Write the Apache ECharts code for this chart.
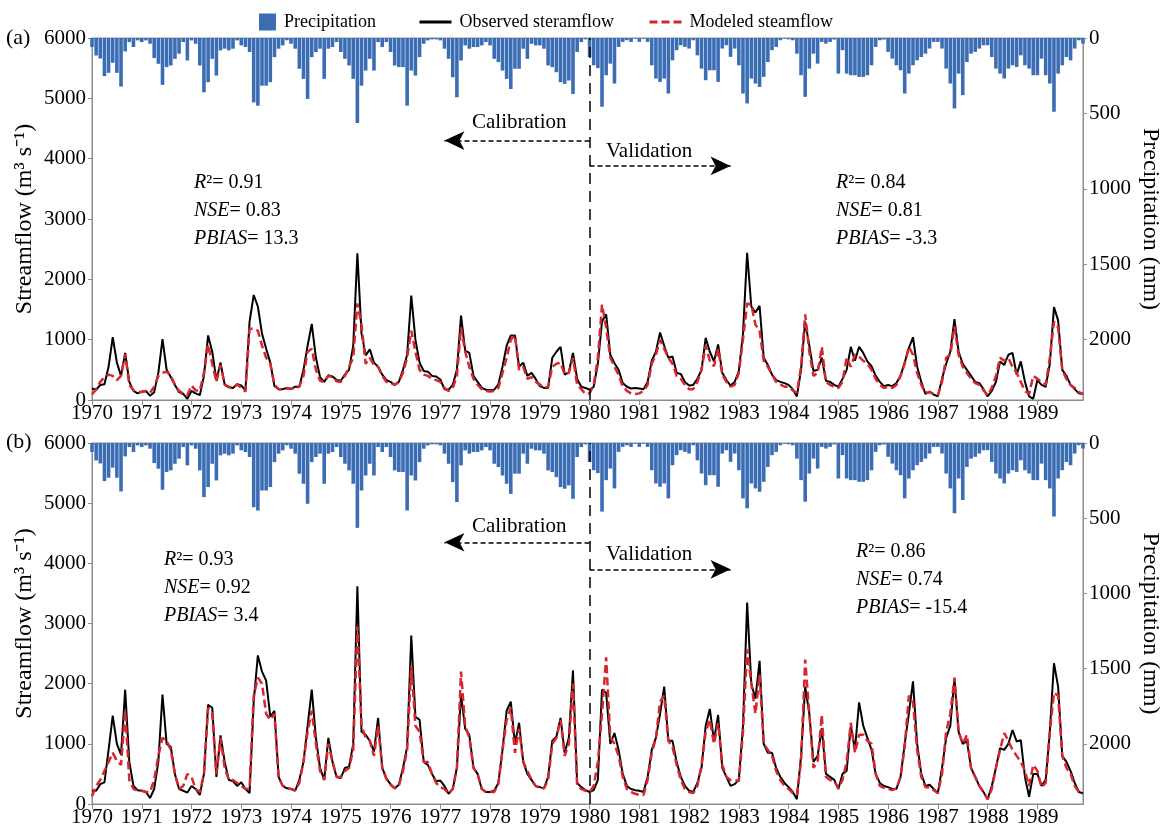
<!DOCTYPE html>
<html><head><meta charset="utf-8">
<script src="https://cdn.jsdelivr.net/npm/echarts@6/dist/echarts.min.js"></script>
<style>html,body{margin:0;padding:0;background:#fff}#c{width:1165px;height:833px}</style>
</head><body><div id="c"></div>
<script>
// ---------- DATA (monthly, Jan 1970 - Dec 1989) ----------
const startYear = 1970;
const nYears = 20;
const precipitation = [
  60,116,136,253,231,164,231,322,89,27,60,16,
  27,16,38,133,171,311,193,182,138,104,27,149,
  16,38,182,360,293,138,249,82,71,82,71,16,
  49,60,93,427,449,316,316,293,127,71,49,15,
  38,71,204,271,404,127,93,71,271,71,60,27,
  93,138,182,271,564,316,216,138,216,27,60,27,
  93,182,193,193,449,216,249,127,38,16,9,9,
  16,71,138,260,393,149,49,71,60,60,49,27,
  49,138,160,216,271,338,204,204,71,138,38,49,
  49,71,182,193,227,293,304,282,371,93,27,9,
  126,181,200,456,247,170,302,59,26,15,26,5,
  26,5,26,181,269,291,269,368,148,81,48,59,
  70,15,115,203,280,214,214,291,70,48,125,70,
  181,368,434,269,302,324,258,159,81,59,15,5,
  9,15,104,247,390,203,104,170,26,37,26,10,
  236,81,236,247,247,258,258,247,181,59,15,10,
  92,137,181,214,368,236,181,148,126,104,70,26,
  26,70,203,302,467,236,379,159,104,92,70,48,
  48,126,203,236,269,203,181,192,115,181,203,247,
  247,137,247,302,489,236,181,126,148,70,15,37
];
const observedA = [
  190,170,250,260,550,1040,620,400,780,300,150,110,
  140,150,70,130,450,1010,500,380,250,130,100,20,
  150,110,80,400,1070,800,330,620,250,210,200,260,
  240,160,1300,1740,1550,1100,850,620,230,180,180,200,
  180,220,220,500,900,1260,700,380,300,410,390,330,
  320,420,500,900,2430,1100,740,840,620,550,420,330,
  300,250,300,500,750,1730,1000,620,480,470,400,390,
  340,180,170,250,500,1400,820,780,400,300,200,170,
  160,170,260,550,900,1070,1070,550,620,400,450,350,
  230,200,200,700,800,880,420,460,780,350,220,200,
  170,220,600,1300,1420,750,610,500,280,220,190,200,
  190,180,300,650,800,1120,900,700,720,450,430,300,
  240,250,350,500,1030,800,640,920,450,330,240,300,
  480,1100,2440,1550,1450,1560,700,580,420,330,300,280,
  250,180,60,500,1300,900,480,500,700,320,300,250,
  220,350,500,880,650,880,780,640,560,400,300,230,
  250,230,280,400,620,860,1040,550,300,100,140,90,
  60,350,600,800,1340,800,600,500,400,300,280,180,
  60,150,300,640,580,750,780,420,640,300,60,20,
  330,250,220,600,1540,1320,500,400,250,180,110,100
];
const modeledA = [
  90,180,300,380,420,400,330,400,760,250,160,140,
  130,150,120,220,400,450,470,400,250,150,110,80,
  240,160,150,450,920,600,300,580,260,220,200,260,
  200,140,1180,1180,1150,900,700,600,250,180,180,190,
  190,190,220,400,800,850,500,320,300,400,380,310,
  300,400,550,700,1600,1250,600,700,580,550,400,300,
  280,250,300,450,700,1150,800,500,420,400,350,330,
  300,200,150,200,400,1200,800,550,350,250,180,150,
  140,150,200,450,700,1000,1070,500,550,350,380,300,
  260,200,220,550,600,620,420,450,700,250,180,100,
  110,250,700,1580,1200,700,550,420,220,150,110,100,
  110,150,250,600,750,1000,850,700,600,400,350,250,
  180,180,300,500,900,650,560,850,420,300,220,250,
  450,1000,1600,1580,1250,1150,650,550,420,300,260,220,
  220,160,120,550,1420,800,400,450,880,300,250,220,
  200,300,700,550,750,720,650,600,500,350,250,200,
  220,200,250,400,600,880,750,450,250,120,130,100,
  80,300,700,750,1220,750,550,450,350,280,250,160,
  80,200,400,700,650,700,550,450,300,150,100,400,
  350,300,250,700,1300,1200,500,350,250,200,130,100
];
const observedB = [
  220,220,330,360,900,1470,1000,820,1900,700,300,230,
  220,200,100,250,700,1820,1000,950,500,250,220,190,
  300,250,150,500,1650,1600,450,1140,700,400,380,300,
  360,250,180,1700,2470,2200,2050,1450,1550,450,300,260,
  250,220,400,700,1300,1900,1100,600,400,1100,700,450,
  430,600,620,1000,3620,1200,1150,1050,870,1430,600,420,
  330,260,320,600,950,2800,1450,1400,700,650,500,380,
  390,300,170,250,600,1820,1250,1150,600,500,250,200,
  200,220,350,900,1550,1700,1000,1350,700,500,400,300,
  280,260,450,1050,1120,1430,850,1100,2220,350,280,230,
  200,230,400,1900,1850,1000,1180,900,500,300,250,230,
  220,200,450,900,1100,1500,1950,1050,1050,700,450,300,
  220,200,350,600,1300,1580,1050,1480,600,450,300,330,
  400,1300,3350,2000,1750,2380,1000,850,850,600,450,350,
  280,200,80,800,1950,1500,700,800,1260,500,450,400,
  250,500,550,1300,900,1690,1300,1100,900,500,350,300,
  280,250,250,450,1000,1500,2040,1000,500,300,320,250,
  180,600,1100,1300,2080,1200,1000,1050,600,450,300,200,
  80,300,600,930,900,1000,1230,1040,1060,450,120,500,
  500,300,400,1200,2340,1950,800,700,550,350,200,180
];
const modeledB = [
  130,300,400,550,700,850,720,650,1550,400,250,220,
  220,200,200,400,800,1100,1050,900,500,250,300,500,
  450,250,200,500,1600,1500,500,1100,600,400,400,350,
  300,250,250,1800,2100,2000,1500,1400,1500,450,300,270,
  250,230,350,700,1200,1550,1000,550,400,1000,700,450,
  450,550,600,900,2950,1300,1100,1050,800,1300,600,420,
  320,260,300,550,900,2300,1300,1200,700,700,500,350,
  280,250,170,250,600,2200,1300,1100,600,500,250,200,
  200,200,330,900,1400,1600,850,1250,700,550,400,300,
  260,260,400,1000,1100,1400,800,1000,2000,300,250,220,
  200,300,700,1500,2440,1100,1000,800,450,250,200,170,
  150,150,400,850,1100,1700,1800,1050,950,650,400,250,
  200,180,300,650,1200,1400,1000,1350,650,450,400,400,
  380,1200,2570,2000,1500,2150,1000,900,800,550,400,300,
  250,180,150,700,2400,1500,600,700,1480,450,400,380,
  260,400,700,1350,850,1150,1150,1050,1000,500,300,270,
  250,230,260,450,950,1800,1700,900,450,280,280,230,
  180,500,1200,1500,2100,1200,1000,1150,600,450,300,200,
  80,250,600,900,1180,1050,900,800,700,550,300,650,
  550,280,350,1200,1850,1800,800,600,500,300,200,170
];
const panelLabels = ['(a)', '(b)'];
const statsA = { cal: ['0.91', '0.83', '13.3'], val: ['0.84', '0.81', '-3.3'] };
const statsB = { cal: ['0.93', '0.92', '3.4'], val: ['0.86', '0.74', '-15.4'] };
const splitIndex = 120;            // Jan 1980: calibration / validation boundary
const arrowLevelsA = [4300, 3880]; // streamflow level of calibration / validation arrows
const arrowLevelsB = [4350, 3900];
const arrowEnds = [85, 154];       // month index where the arrows end

// ---------- CHART ----------
const SERIF = '"Liberation Serif", "Times New Roman", serif';
const AX = '#8c8c8c';
const BLUE = '#3b6db4';
const RED = '#d7262e';
const pair = arr => arr.map((v, i) => [i, v]);
const lastIdx = nYears * 12 - 1;

const grids = [
  { left: 92, right: 82, top: 38, height: 362 },
  { left: 92, right: 82, top: 443, height: 361 }
].map(g => Object.assign(g, {
  show: true, borderColor: AX, borderWidth: 1, backgroundColor: 'transparent',
  containLabel: false, outerBoundsMode: 'none'
}));

function xAxis(gi) {
  return {
    type: 'value', gridIndex: gi, min: 0, max: lastIdx, interval: 12,
    axisLine: { lineStyle: { color: AX, width: 1 } },
    axisTick: { length: 5, lineStyle: { color: AX } },
    splitLine: { show: false },
    axisLabel: {
      color: '#000', fontFamily: SERIF, fontSize: 21, margin: 3, showMaxLabel: false,
      formatter: v => (v % 12 === 0 ? String(startYear + v / 12) : '')
    }
  };
}
function yLeft(gi) {
  return {
    type: 'value', gridIndex: gi, min: 0, max: 6000, interval: 1000, position: 'left',
    name: 'Streamflow (m³ s⁻¹)', nameLocation: 'middle', nameGap: 55, nameRotate: 90,
    nameMoveOverlap: false,
    nameTextStyle: { color: '#000', fontFamily: SERIF, fontSize: 24 },
    axisLine: { show: true, lineStyle: { color: AX } },
    axisTick: { show: true, length: 4, lineStyle: { color: AX } },
    splitLine: { show: false },
    axisLabel: { color: '#000', fontFamily: SERIF, fontSize: 21, margin: 6, formatter: v => String(v) }
  };
}
function yRight(gi) {
  return {
    type: 'value', gridIndex: gi, min: 0, max: 2400, interval: 500, inverse: true, position: 'right',
    name: 'Precipitation (mm)', nameLocation: 'middle', nameGap: 55, nameRotate: -90,
    nameMoveOverlap: false,
    nameTextStyle: { color: '#000', fontFamily: SERIF, fontSize: 24 },
    axisLine: { show: true, lineStyle: { color: AX } },
    axisTick: { show: true, length: 4, lineStyle: { color: AX } },
    splitLine: { show: false },
    axisLabel: { color: '#000', fontFamily: SERIF, fontSize: 21, margin: 6, showMaxLabel: false, formatter: v => String(v) }
  };
}

function panelSeries(gi, obs, mod, levels) {
  const arrowStyle = { color: '#000', width: 1.5, type: [5, 3] };
  return [
    {
      name: 'Precipitation', type: 'bar', xAxisIndex: gi, yAxisIndex: gi * 2 + 1,
      data: pair(precipitation), barWidth: 3.6, itemStyle: { color: BLUE }
    },
    {
      name: 'Observed steramflow', type: 'line', xAxisIndex: gi, yAxisIndex: gi * 2,
      data: pair(obs), symbol: 'none', lineStyle: { color: '#000', width: 2 }, itemStyle: { color: '#000' },
      z: 3,
      markLine: {
        silent: true, symbol: ['none', 'arrow'], symbolSize: [14, 20], animation: false,
        label: { show: false },
        data: [
          [{ coord: [splitIndex, levels[0]], lineStyle: arrowStyle }, { coord: [arrowEnds[0], levels[0]] }],
          [{ coord: [splitIndex, levels[1]], lineStyle: arrowStyle }, { coord: [arrowEnds[1], levels[1]] }]
        ]
      }
    },
    {
      name: 'Modeled steamflow', type: 'line', xAxisIndex: gi, yAxisIndex: gi * 2,
      data: pair(mod), symbol: 'none', lineStyle: { color: RED, width: 2.5, type: [8, 4] }, itemStyle: { color: RED },
      z: 4,
      markLine: {
        silent: true, symbol: ['none', 'none'], animation: false, label: { show: false },
        lineStyle: { color: '#000', width: 1.5, type: [11, 7] },
        data: [{ xAxis: splitIndex }]
      }
    }
  ];
}

function statText(x, y, vals) {
  return {
    type: 'text', left: x, top: y,
    style: {
      text: '{i|R}{n|²= ' + vals[0] + '}\n{i|NSE}{n|= ' + vals[1] + '}\n{i|PBIAS}{n|= ' + vals[2] + '}',
      fill: '#000', lineHeight: 28,
      rich: {
        i: { fontFamily: SERIF, fontStyle: 'italic', fontSize: 20, lineHeight: 28 },
        n: { fontFamily: SERIF, fontSize: 20, lineHeight: 28 }
      }
    }
  };
}
function plainText(x, y, t, size) {
  return { type: 'text', left: x, top: y, style: { text: t, fill: '#000', font: size + 'px ' + SERIF } };
}

const legendBase = {
  top: 8, itemHeight: 17,
  textStyle: { fontFamily: SERIF, fontSize: 18, color: '#000', padding: [0, 0, 0, 3] }
};
const lineLegend = { itemWidth: 32, itemStyle: { opacity: 0 }, lineStyle: { width: 3 } };

const option = {
  animation: false,
  backgroundColor: '#fff',
  legend: [
    Object.assign({}, legendBase, { data: ['Precipitation'], left: 254, itemWidth: 17, icon: 'rect' }),
    Object.assign({}, legendBase, lineLegend, { data: ['Observed steramflow'], left: 413 }),
    Object.assign({}, legendBase, lineLegend, { data: ['Modeled steamflow'], left: 643 })
  ],
  grid: grids,
  xAxis: [xAxis(0), xAxis(1)],
  yAxis: [yLeft(0), yRight(0), yLeft(1), yRight(1)],
  series: [].concat(
    panelSeries(0, observedA, modeledA, arrowLevelsA),
    panelSeries(1, observedB, modeledB, arrowLevelsB)
  ),
  graphic: [
    plainText(6, 27, panelLabels[0], 22),
    plainText(6, 431, panelLabels[1], 22),
    plainText(472, 112, 'Calibration', 21),
    plainText(606, 141, 'Validation', 21),
    plainText(472, 516, 'Calibration', 21),
    plainText(606, 544, 'Validation', 21),
    statText(194, 169, statsA.cal),
    statText(836, 169, statsA.val),
    statText(164, 546, statsB.cal),
    statText(856, 538, statsB.val)
  ]
};

const chart = echarts.init(document.getElementById('c'), null, { renderer: 'canvas' });
chart.setOption(option);
</script>
</body></html>
